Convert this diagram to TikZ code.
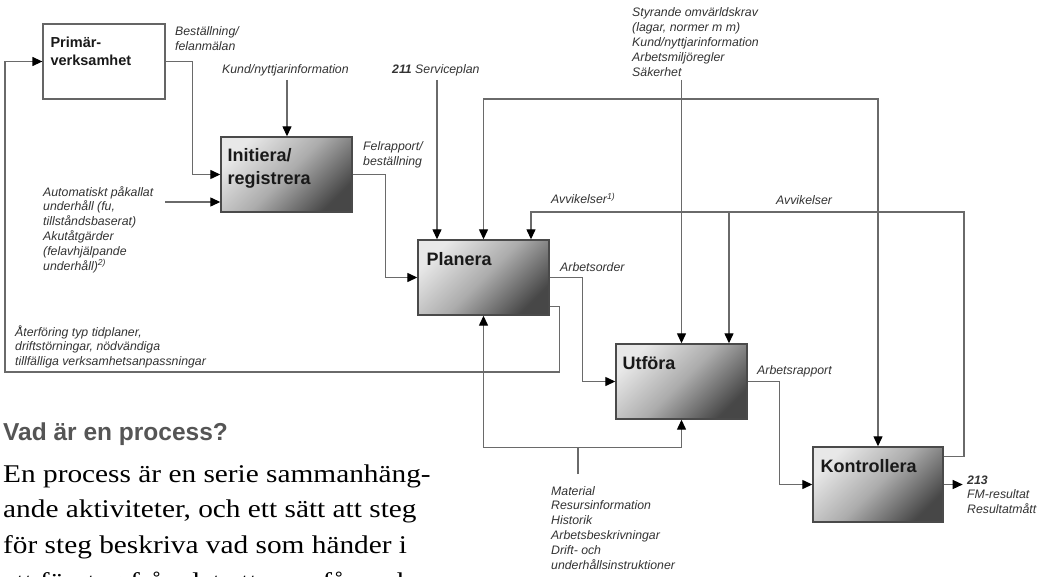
\documentclass[tikz,border=0pt]{standalone}
\usepackage{fontspec}
\usetikzlibrary{arrows.meta,calc}
\newfontfamily\lblfont{Liberation Sans}
\newfontfamily\bodyfont[FakeStretch=1.15]{Liberation Serif}
\definecolor{wire}{HTML}{6A6A6A}
\definecolor{boxedge}{HTML}{4A4A4A}
\definecolor{lbl}{HTML}{333333}
\definecolor{headc}{HTML}{555555}
\tikzset{
  flow/.style={draw=wire, line width=1.3pt, -{Triangle[length=10pt,width=9pt,color=black]}},
  flowboth/.style={draw=wire, line width=1.3pt, {Triangle[length=10pt,width=9pt,color=black]}-{Triangle[length=10pt,width=9pt,color=black]}},
  plain/.style={draw=wire, line width=1.3pt},
  procbox/.style={draw=boxedge, line width=1.4pt, minimum height=75pt, inner sep=0pt,
    top color=gray!18, bottom color=black!72, middle color=gray!65, shading angle=45},
  whitebox/.style={draw=boxedge!85, line width=1.3pt, fill=white, minimum width=122pt, minimum height=75pt, inner sep=0pt},
  boxtitle/.style={font=\lblfont\bfseries\fontsize{18}{23}\selectfont, text=black!90, anchor=base west, inner sep=0pt},
  % multi-line labels: the base anchor sits on the last line
  lab/.style={font=\lblfont\itshape\fontsize{12.3}{14.8}\selectfont, text=lbl, anchor=base west, align=left, inner sep=0pt},
  bodyline/.style={font=\bodyfont\fontsize{25.5}{35.5}\selectfont, text=black, anchor=base west, inner sep=0pt},
  heading/.style={font=\lblfont\bfseries\fontsize{24.5}{28}\selectfont, text=headc, anchor=base west, inner sep=0pt},
}
\begin{document}
\begin{tikzpicture}[x=1pt,y=-1pt]
\useasboundingbox (0,0) rectangle (1048,577);
\clip (0,0) rectangle (1048,577);
\fill[white] (0,0) rectangle (1048,577);

% process boxes
\node[whitebox] (prim) at (104,61.5) {};
\node[procbox, minimum width=131pt] (ini) at (286.5,174.5) {};
\node[procbox, minimum width=131pt] (pla) at (483.5,277.5) {};
\node[procbox, minimum width=131pt] (utf) at (681.5,381.5) {};
\node[procbox, minimum width=130pt] (kon) at (878,484.5) {};

% box titles
\node[boxtitle, font=\lblfont\bfseries\fontsize{14.5}{18}\selectfont] (primA) at ($(prim.north west)+(8,24)$) {Primär-};
\node[boxtitle, font=\lblfont\bfseries\fontsize{14.5}{18}\selectfont] (primB) at ($(prim.north west)+(8,42)$) {verksamhet};
\node[boxtitle] (iniA) at ($(ini.north west)+(7,25)$) {Initiera/};
\node[boxtitle] (iniB) at ($(ini.north west)+(7,48)$) {registrera};
\node[boxtitle] (plaT) at ($(pla.north west)+(9,26)$) {Planera};
\node[boxtitle] (utfT) at ($(utf.north west)+(7,26)$) {Utföra};
\node[boxtitle] (konT) at ($(kon.north west)+(8,26)$) {Kontrollera};

% free ends of incoming and outgoing lines
\coordinate (kundin) at (287,80);
\coordinate (svcin) at (437,80);
\coordinate (autoin) at (165,202);
\coordinate (styrin) at (681.5,80);
\coordinate (avvR) at (964,212);
\coordinate (toploop) at (878,99);
\coordinate (matin) at (578,474);
\coordinate (fbL) at (5,372);
\coordinate (utfR) at ($(utf.north)+(47.5,0)$);
\coordinate (plaR) at ($(pla.north)+(47.5,0)$);
\coordinate (resbus) at ($(utf.south)+(0,28)$);

% main chain
\draw[flow] (prim.east) -- ++(27,0) |- (ini.west);
\draw[flow] (ini.east) -- ++(33,0) |- (pla.west);
\draw[flow] (pla.east) -- ++(33,0) |- (utf.west);
\draw[flow] (utf.east) -- ++(32,0) |- (kon.west);
\draw[flow] (kon.east) -- ++(19,0) coordinate (resout);

% inputs
\draw[flow] (kundin) -- (kundin |- ini.north);
\draw[flow] (autoin) -- (autoin -| ini.west);
\draw[flow] (svcin) -- (svcin |- pla.north);
\draw[flow] (styrin) -- (utf.north);
\draw[flowboth] (pla.north) |- (toploop) -- (kon.north);

% deviations fed back from Kontrollera
\draw[flow] ($(kon.north east)+(0,10)$) -| (avvR) -| (plaR);
\draw[flow] (utfR |- avvR) -- (utfR);

% resources from below
\draw[flowboth] (pla.south) |- (resbus) -- (utf.south);
\draw[plain] (matin) -- (matin |- resbus);

% feedback to the primary activity
\draw[flow] ($(pla.south east)+(0,-9)$) -- ++(10,0) |- (fbL) |- (prim.west);

% labels (y = baseline of the last line)
\node[lab] (l1) at (175,50.8) {Beställning/\\felanmälan};
\node[lab] (l2) at (222,74) {Kund/nyttjarinformation};
\node[lab] (l3) at (392,74) {\textbf{211} Serviceplan};
\node[lab] (l4) at (632,76.2) {Styrande omvärldskrav\\(lagar, normer m m)\\Kund/nyttjarinformation\\Arbetsmiljöregler\\Säkerhet};
\node[lab] (l5) at (363,165.8) {Felrapport/\\beställning};
\node[lab] (l6) at (43,270) {Automatiskt påkallat\\underhåll (fu,\\tillståndsbaserat)\\Akutåtgärder\\(felavhjälpande\\underhåll)\textsuperscript{2)}};
\node[lab] (l7) at (551,204) {Avvikelser\textsuperscript{1)}};
\node[lab] (l8) at (776,205) {Avvikelser};
\node[lab] (l9) at (560,271) {Arbetsorder};
\node[lab] (l10) at (15,365.6) {Återföring typ tidplaner,\\driftstörningar, nödvändiga\\tillfälliga verksamhetsanpassningar};
\node[lab] (l11) at (757,374) {Arbetsrapport};
\node[lab] (l12) at (967,513.6) {\textbf{213}\\FM-resultat\\Resultatmått};
\node[lab] (l13) at (551,569) {Material\\Resursinformation\\Historik\\Arbetsbeskrivningar\\Drift- och\\underhållsinstruktioner};

% running text
\node[heading] (h) at (3,440) {Vad är en process?};
\node[bodyline] (b1) at (3,482) {En process är en serie sammanhäng-};
\node[bodyline] (b2) at (3,517.5) {ande aktiviteter, och ett sätt att steg};
\node[bodyline] (b3) at (3,553) {för steg beskriva vad som händer i};
\node[bodyline] (b4) at (3,590) {ett företag från det att man får en be-};
\end{tikzpicture}
\end{document}
